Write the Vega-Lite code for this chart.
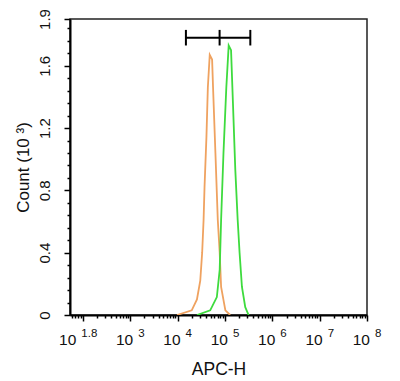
{
  "$schema": "https://vega.github.io/schema/vega-lite/v6.json",
  "width": 297,
  "height": 296,
  "autosize": "none",
  "padding": {"left": 70, "top": 19, "right": 33, "bottom": 66},
  "config": {
    "font": "Liberation Sans",
    "view": {"stroke": "#222222", "strokeWidth": 1.5},
    "axis": {"grid": false, "domainColor": "#000000", "domainWidth": 2, "tickColor": "#000000", "tickWidth": 1.5, "labelColor": "#111111", "titleColor": "#111111", "titleFontWeight": "normal", "labelFont": "Liberation Sans", "titleFont": "Liberation Sans", "labelOverlap": false}
  },
  "resolve": {"axis": {"x": "independent", "y": "independent"}},
  "datasets": {
    "curves": [
      {"sample": "control", "apc": 9772, "count": 0},
      {"sample": "control", "apc": 19953, "count": 0.03},
      {"sample": "control", "apc": 25704, "count": 0.1},
      {"sample": "control", "apc": 30200, "count": 0.22},
      {"sample": "control", "apc": 33113, "count": 0.4},
      {"sample": "control", "apc": 35481, "count": 0.61},
      {"sample": "control", "apc": 37154, "count": 0.82},
      {"sample": "control", "apc": 40738, "count": 1.14},
      {"sample": "control", "apc": 43652, "count": 1.46},
      {"sample": "control", "apc": 47863, "count": 1.67},
      {"sample": "control", "apc": 53703, "count": 1.64},
      {"sample": "control", "apc": 56234, "count": 1.46},
      {"sample": "control", "apc": 63096, "count": 1.04},
      {"sample": "control", "apc": 70795, "count": 0.61},
      {"sample": "control", "apc": 77625, "count": 0.4},
      {"sample": "control", "apc": 83176, "count": 0.18},
      {"sample": "control", "apc": 102329, "count": 0.03},
      {"sample": "control", "apc": 128825, "count": 0},
      {"sample": "antibody", "apc": 25704, "count": 0},
      {"sample": "antibody", "apc": 48978, "count": 0.03},
      {"sample": "antibody", "apc": 67608, "count": 0.115},
      {"sample": "antibody", "apc": 77625, "count": 0.29},
      {"sample": "antibody", "apc": 83176, "count": 0.61},
      {"sample": "antibody", "apc": 93325, "count": 1.04},
      {"sample": "antibody", "apc": 107152, "count": 1.46},
      {"sample": "antibody", "apc": 120226, "count": 1.73},
      {"sample": "antibody", "apc": 134896, "count": 1.7},
      {"sample": "antibody", "apc": 147911, "count": 1.36},
      {"sample": "antibody", "apc": 165959, "count": 0.93},
      {"sample": "antibody", "apc": 186209, "count": 0.61},
      {"sample": "antibody", "apc": 204174, "count": 0.4},
      {"sample": "antibody", "apc": 229087, "count": 0.18},
      {"sample": "antibody", "apc": 269153, "count": 0.05},
      {"sample": "antibody", "apc": 316228, "count": 0}
    ],
    "gate": [
      {"x1": 15031, "x2": 344000, "y1": 1.78, "y2": 1.78},
      {"x1": 15031, "x2": 15031, "y1": 1.73, "y2": 1.83},
      {"x1": 77300, "x2": 77300, "y1": 1.73, "y2": 1.83},
      {"x1": 344000, "x2": 344000, "y1": 1.73, "y2": 1.83}
    ],
    "xlabels": [
      {"v": 63.1, "e": "1.8"},
      {"v": 1000, "e": "3"},
      {"v": 10000, "e": "4"},
      {"v": 100000, "e": "5"},
      {"v": 1000000, "e": "6"},
      {"v": 10000000, "e": "7"},
      {"v": 100000000, "e": "8"}
    ]
  },
  "layer": [
    {
      "data": {"name": "curves"},
      "mark": {"type": "line", "strokeWidth": 1.8, "clip": true},
      "encoding": {
        "x": {
          "field": "apc", "type": "quantitative",
          "scale": {"type": "log", "domain": [53.7, 100000000], "nice": false},
          "axis": {
            "orient": "bottom",
            "title": "APC-H", "titleFontSize": 17.5, "titlePadding": 39,
            "labels": false, "tickSize": 6,
            "values": [100, 1000, 10000, 100000, 1000000, 10000000, 100000000]
          }
        },
        "y": {
          "field": "count", "type": "quantitative",
          "scale": {"domain": [0, 1.9], "nice": false},
          "axis": {
            "orient": "left",
            "title": "Count  (10 ³)", "titleFontSize": 17, "titlePadding": 5,
            "values": [0, 0.4, 0.8, 1.2, 1.6, 1.9],
            "format": "~g", "tickSize": 6,
            "labelAngle": -90, "labelFontSize": 15, "labelPadding": 12, "labelAlign": "center", "labelBaseline": "bottom"
          }
        },
        "color": {
          "field": "sample", "type": "nominal",
          "scale": {"domain": ["control", "antibody"], "range": ["#EFA260", "#3EDB3E"]},
          "legend": null
        }
      }
    },
    {
      "data": {"name": "gate"},
      "mark": {"type": "rule", "color": "#000000", "strokeWidth": 2},
      "encoding": {
        "x": {
          "field": "x1", "type": "quantitative",
          "axis": {
            "orient": "bottom", "title": null, "labels": false, "domain": false, "tickSize": 3,
            "values": [60, 70, 80, 90, 200, 300, 400, 500, 600, 700, 800, 900, 2000, 3000, 4000, 5000, 6000, 7000, 8000, 9000, 20000, 30000, 40000, 50000, 60000, 70000, 80000, 90000, 200000, 300000, 400000, 500000, 600000, 700000, 800000, 900000, 2000000, 3000000, 4000000, 5000000, 6000000, 7000000, 8000000, 9000000, 20000000, 30000000, 40000000, 50000000, 60000000, 70000000, 80000000, 90000000]
          }
        },
        "x2": {"field": "x2"},
        "y": {
          "field": "y1", "type": "quantitative",
          "axis": {
            "orient": "left", "title": null, "labels": false, "domain": false, "tickSize": 3,
            "values": [0.08, 0.16, 0.24, 0.32, 0.48, 0.56, 0.64, 0.72, 0.88, 0.96, 1.04, 1.12, 1.28, 1.36, 1.44, 1.52, 1.68, 1.76, 1.84]
          }
        },
        "y2": {"field": "y2"}
      }
    },
    {
      "data": {"name": "xlabels"},
      "mark": {"type": "text", "align": "right", "baseline": "middle", "dx": 3, "dy": 25, "fontSize": 15.5, "color": "#111111"},
      "encoding": {
        "x": {"field": "v", "type": "quantitative", "axis": null},
        "y": {"datum": 0, "type": "quantitative", "axis": null},
        "text": {"value": "10"}
      }
    },
    {
      "data": {"name": "xlabels"},
      "mark": {"type": "text", "align": "left", "baseline": "middle", "dx": 8, "dy": 19, "fontSize": 11.5, "color": "#111111"},
      "encoding": {
        "x": {"field": "v", "type": "quantitative", "axis": null},
        "y": {"datum": 0, "type": "quantitative", "axis": null},
        "text": {"field": "e"}
      }
    }
  ]
}
